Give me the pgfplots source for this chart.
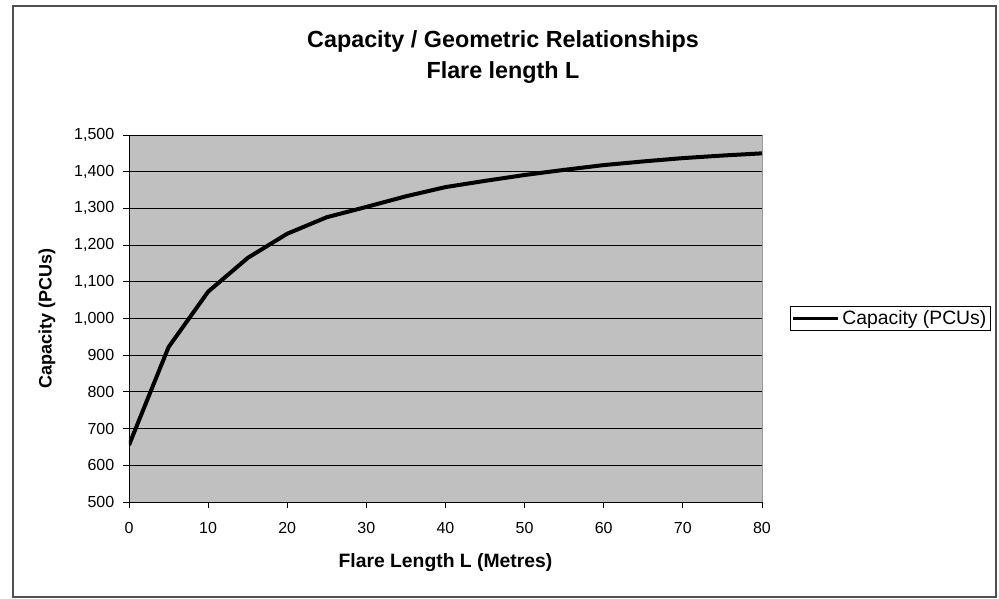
\documentclass[border=0pt]{standalone}
\usepackage{pgfplots}
\pgfplotsset{compat=1.18}
\usepackage{fontspec}
\setmainfont{Liberation Sans}

\definecolor{plotgray}{HTML}{C0C0C0}
\definecolor{framegray}{HTML}{505050}

\begin{document}
\begin{tikzpicture}[x=0.75pt,y=0.75pt]
  % whole picture: 999 x 599 px, axis origin at px (129,502)
  \path[use as bounding box] (-129,-97) rectangle (870,502);
  \draw[framegray, line width=1.5pt] (-115.5,-95) rectangle (866.5,495.5);
  \node[font=\bfseries\fontsize{17.5}{23.25}\selectfont, align=center]
    at (374,445) {Capacity / Geometric Relationships\\Flare length L};
  \begin{axis}[
    at={(0,0)}, anchor=south west,
    scale only axis,
    width=474.75pt, height=275.25pt,
    xmin=0, xmax=80, ymin=500, ymax=1500,
    xtick={0,10,...,80},
    ytick={500,600,...,1500},
    ymajorgrids=true,
    grid style={black, line width=0.6pt},
    axis background/.style={fill=plotgray, draw=gray!80},
    axis x line*=bottom, axis y line*=left,
    axis line style={black, line width=0.6pt},
    tick style={black, line width=0.6pt},
    tick align=outside,
    major tick length=4.5pt,
    tick label style={font=\fontsize{12}{13}\selectfont},
    /pgf/number format/assume math mode=true,
    /pgf/number format/1000 sep={,},
    xticklabel style={yshift=-7.5pt},
    yticklabel style={xshift=-3pt},
    xlabel={Flare Length L (Metres)},
    ylabel={Capacity (PCUs)},
    xlabel style={font=\bfseries\fontsize{14.5}{16}\selectfont,
      at={(axis description cs:0.5,-0.1662)}, anchor=center},
    ylabel style={font=\bfseries\fontsize{13.5}{15}\selectfont,
      at={(axis description cs:-0.1295,0.5)}, anchor=center},
    legend style={at={(1.0442,0.5)}, anchor=west,
      draw=black, line width=0.6pt,
      font=\fontsize{14.5}{16}\selectfont,
      inner xsep=1pt, inner ysep=1pt},
    legend cell align=left,
    legend image code/.code={\draw[#1, line width=2pt] (0pt,0pt) -- (34pt,0pt);},
  ]
  \addplot[black, line width=3pt, line join=round]
    coordinates {(0,655)(5,922)(10,1073)(15,1165)(20,1231)(25,1276)
      (30,1304)(35,1333)(40,1358)(45,1375)(50,1391)(55,1405)
      (60,1418)(65,1428)(70,1437)(75,1444)(80,1450)};
  \addlegendentry{Capacity (PCUs)}
  \end{axis}
\end{tikzpicture}
\end{document}
